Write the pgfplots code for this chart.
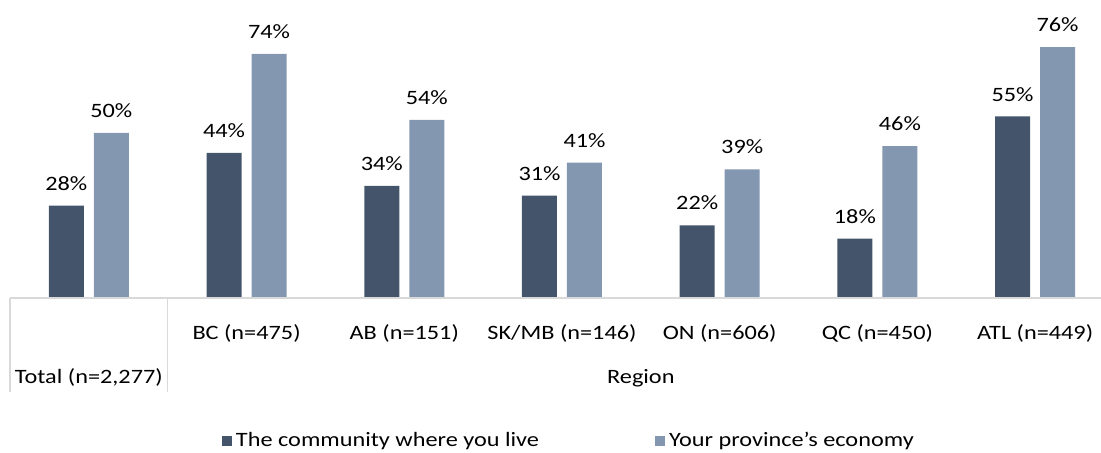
\documentclass[border=0pt]{standalone}
\usepackage{fontspec}
\setmainfont{Carlito}[FakeStretch=1.19]
\usepackage{pgfplots}
\pgfplotsset{compat=1.18}
\definecolor{darkbar}{HTML}{44546A}
\definecolor{lightbar}{HTML}{8497B0}
\definecolor{gridc}{HTML}{D9D9D9}
\begin{document}
\begin{tikzpicture}[font=\fontsize{10.2pt}{12pt}\selectfont]
\begin{axis}[
  at={(5pt,77.5pt)}, anchor=south west,
  scale only axis, width=545.5pt, height=132pt,
  xmin=-0.5, xmax=6.418, ymin=0, ymax=80,
  axis lines=none, clip=false,
  ybar=5pt, bar width=17.5pt,
  xtick=\empty, ytick=\empty,
  nodes near coords={\pgfmathprintnumber[assume math mode=true]{\pgfplotspointmeta}\%},
  every node near coord/.append style={font=\fontsize{10.2pt}{12pt}\selectfont, text=black, anchor=south, inner sep=0pt, text depth=0pt, yshift=7.5pt},
  legend columns=2,
  legend style={draw=none, fill=none, at={(0.1943,-0.5417)}, anchor=west, inner sep=0pt, outer sep=0pt,
    font=\fontsize{10.2pt}{12pt}\selectfont,
    /tikz/every even column/.append style={column sep=56pt}},
  legend image code/.code={\fill[#1] (0pt,-2.5pt) rectangle (5pt,2.5pt);},
]
\addplot[draw=none, fill=darkbar] coordinates {(0,28) (1,44) (2,34) (3,31) (4,22) (5,18) (6,55)};
\addlegendentry{The community where you live}
\addplot[draw=none, fill=lightbar] coordinates {(0,50) (1,74) (2,54) (3,41) (4,39) (5,46) (6,76)};
\addlegendentry{Your province’s economy}
\draw[gridc, line width=0.6pt] (axis cs:-0.5,0) -- (axis cs:6.418,0);
\draw[gridc, line width=0.6pt] (axis cs:-0.5,0) -- (axis cs:-0.5,-28.5);
\draw[gridc, line width=0.6pt] (axis cs:0.5,0) -- (axis cs:0.5,-28.5);
\node at (axis cs:1,-10.6) {BC (n=475)};
\node at (axis cs:2,-10.6) {AB (n=151)};
\node at (axis cs:3,-10.6) {SK/MB (n=146)};
\node at (axis cs:4,-10.6) {ON (n=606)};
\node at (axis cs:5,-10.6) {QC (n=450)};
\node at (axis cs:6,-10.6) {ATL (n=449)};
\node at (axis cs:0,-24.2) {Total (n=2,277)};
\node at (axis cs:3.5,-24.2) {Region};
\end{axis}
\pgfresetboundingbox
\path[use as bounding box] (0,0) rectangle (550.5pt,226.5pt);
\end{tikzpicture}
\end{document}
